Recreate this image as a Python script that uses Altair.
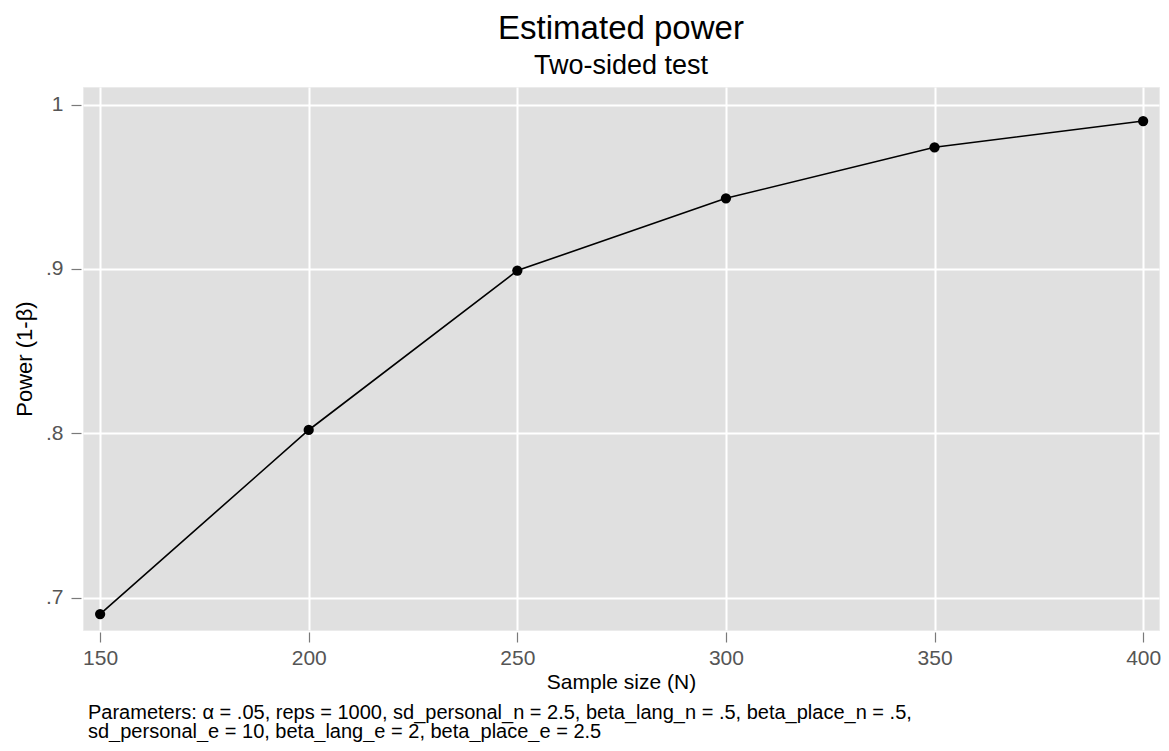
import altair as alt
import pandas as pd

sample_size = [150, 200, 250, 300, 350, 400]
power = [0.690, 0.802, 0.899, 0.943, 0.974, 0.990]
x_ticks = [150, 200, 250, 300, 350, 400]
y_ticks = [0.7, 0.8, 0.9, 1.0]
note_lines = [
    "Parameters: \u03b1 = .05, reps = 1000, sd_personal_n = 2.5, beta_lang_n = .5, beta_place_n = .5,",
    "sd_personal_e = 10, beta_lang_e = 2, beta_place_e = 2.5",
]

df = pd.DataFrame({"N": sample_size, "power": power})
FONT = "Liberation Sans"

xenc = alt.X(
    "N:Q",
    scale=alt.Scale(domain=[145.9, 403.8], nice=False, zero=False),
    axis=alt.Axis(
        values=x_ticks, title="Sample size (N)", grid=True, gridColor="white",
        gridWidth=2, domain=False, tickSize=10, tickColor="#7a7a7a", tickWidth=1.2,
        offset=2, labelPadding=5, labelFontSize=21, labelColor="#555555",
        labelFont=FONT, titleFont=FONT, titleFontSize=21, titleFontWeight="normal",
        titleColor="black", titleY=56, titleBaseline="alphabetic",
    ),
)
yenc = alt.Y(
    "power:Q",
    scale=alt.Scale(domain=[0.6803, 1.0107], nice=False, zero=False),
    axis=alt.Axis(
        values=y_ticks, title="Power (1-\u03b2)", grid=True, gridColor="white",
        gridWidth=2, domain=False, tickSize=10, tickColor="#7a7a7a", tickWidth=1.2,
        offset=2, labelPadding=8, labelFontSize=21, labelColor="#555555",
        labelFont=FONT, titleFont=FONT, titleFontSize=22, titleFontWeight="normal",
        titleColor="black",
        labelExpr="datum.value == 1 ? '1' : substring(format(datum.value, '.1f'), 1)",
        titleX=-50, titleBaseline="alphabetic",
    ),
)

base = alt.Chart(df)
line = base.mark_line(color="black", strokeWidth=1.6).encode(x=xenc, y=yenc)
pts = base.mark_circle(color="black", opacity=1, size=105).encode(x=xenc, y=yenc)

notes = alt.Chart(pd.DataFrame({"t": ["\n".join(note_lines)]})).mark_text(
    align="left", baseline="alphabetic", font=FONT, fontSize=20, color="black",
    lineBreak="\n", lineHeight=19,
).encode(text="t:N", x=alt.value(5), y=alt.value(632))

chart = alt.layer(line, pts, notes).properties(
    width=1076, height=543,
    background="white",
    autosize=alt.AutoSizeParams(type="none"),
    padding={"left": 75, "top": 79, "right": 2, "bottom": 112},
    title=alt.TitleParams(
        text="Estimated power", subtitle="Two-sided test", fontSize=33,
        subtitleFontSize=27, font=FONT, subtitleFont=FONT, fontWeight="normal",
        color="black", subtitleColor="black", anchor="middle", offset=8,
        subtitlePadding=7,
    ),
).configure_view(fill="#e0e0e0", stroke="#ebebeb", strokeWidth=1)

chart.save("out.html", embed_options={"renderer": "svg", "actions": False})
